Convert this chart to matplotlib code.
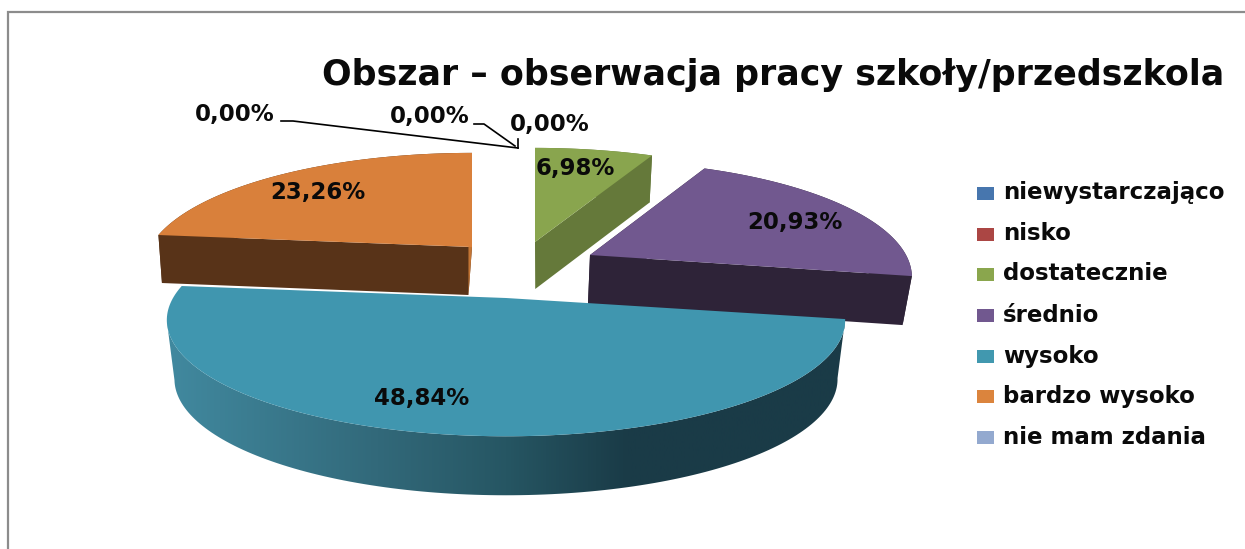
import numpy as np
import matplotlib
matplotlib.use("Agg")
from matplotlib import pyplot as plt
from matplotlib.colors import LinearSegmentedColormap
from matplotlib.patches import Polygon, Rectangle

title = "Obszar – obserwacja pracy szkoły/przedszkola"
categories = ["niewystarczająco", "nisko", "dostatecznie", "średnio", "wysoko", "bardzo wysoko", "nie mam zdania"]
values = [0.0, 0.0, 6.98, 20.93, 48.84, 23.26, 0.0]
legend_colors = ["#4776ae", "#ab4644", "#8aa64d", "#71588f", "#4198af", "#db843d", "#93a9cf"]

# layout of the exploded slices, in pixels: only slices that have a value
apex = {"dostatecznie": (535, 242), "średnio": (590, 255), "wysoko": (506, 298), "bardzo wysoko": (472, 247)}
size_x = {"dostatecznie": 323, "średnio": 316, "wysoko": 333, "bardzo wysoko": 322}
depth = {"dostatecznie": 47, "średnio": 49, "wysoko": 59, "bardzo wysoko": 48}
vanish_x = {"dostatecznie": 545, "średnio": 500, "wysoko": 506, "bardzo wysoko": 315}
top_color = {"dostatecznie": "#89a54e", "średnio": "#71588f", "wysoko": "#4096af", "bardzo wysoko": "#d9803b"}
start_cut = {"dostatecznie": "#7d9647", "średnio": "#2e2338", "wysoko": None, "bardzo wysoko": "#583318"}
end_cut = {"dostatecznie": "#65793a", "średnio": "#2e2338", "wysoko": None, "bardzo wysoko": "#c47534"}
outer_color = {"dostatecznie": "#65793a", "średnio": "#2e2338", "bardzo wysoko": "#583318"}
label_pos = {"niewystarczająco": (235, 114), "nisko": (430, 117), "dostatecznie": (575, 168), "średnio": (795, 222),
             "wysoko": (422, 398), "bardzo wysoko": (318, 193), "nie mam zdania": (550, 124)}

SIZE_Y = 112
PERSP = 0.19
SHRINK = 0.0225
side_cmap = LinearSegmentedColormap.from_list(
    "side", [(0, "#41899f"), (0.31, "#32697a"), (0.5, "#265663"), (0.68, "#1a3b47"), (1, "#1a3b47")])


def top_point(name, theta):
    u = np.sin(theta)
    v = np.cos(theta)
    w = 1 + PERSP * v
    return apex[name][0] + size_x[name] * u / w, apex[name][1] - SIZE_Y * v / w


def bottom_point(name, x, y):
    return x + (vanish_x[name] - x) * SHRINK, y + depth[name]


fig = plt.figure(figsize=(12.45, 5.49), dpi=100)
ax = fig.add_axes([0, 0, 1, 1])

# frame
ax.plot([8, 8, 1245], [549, 12, 12], color="#8c8c8c", lw=1.6, solid_joinstyle="miter")

fracs = np.array(values) / sum(values)
ends = np.cumsum(fracs) * 2 * np.pi
starts = ends - fracs * 2 * np.pi
order = ["bardzo wysoko", "dostatecznie", "średnio", "wysoko"]

z = 2
for name in order:
    i = categories.index(name)
    t = np.linspace(starts[i], ends[i], 160)
    arc = [top_point(name, a) for a in t]
    low = [bottom_point(name, x, y) for x, y in arc]
    low_apex = bottom_point(name, *apex[name])

    if start_cut[name]:
        ax.add_patch(Polygon([apex[name], arc[0], low[0], low_apex], fc=start_cut[name], ec="none", zorder=z))
    if name == "wysoko":
        # outer wall shaded from left to right, only between the widest points
        xs = [p[0] for p in arc]
        a, b = int(np.argmax(xs)), int(np.argmin(xs))
        wall = Polygon(arc[a:b + 1] + low[a:b + 1][::-1], fc="none", ec="none")
        ax.add_patch(wall)
        grad = ax.imshow(np.linspace(0, 1, 512).reshape(1, -1), cmap=side_cmap, extent=(167, 845, 549, 0),
                         aspect="auto", zorder=z)
        grad.set_clip_path(wall)
    else:
        ax.add_patch(Polygon(arc + low[::-1], fc=outer_color[name], ec="none", zorder=z))
    if end_cut[name]:
        ax.add_patch(Polygon([apex[name], arc[-1], low[-1], low_apex], fc=end_cut[name], ec="none", zorder=z))
    ax.add_patch(Polygon([apex[name]] + arc, fc=top_color[name], ec="none", zorder=z + 0.5))
    z += 1

# leader lines of the empty slices
ax.plot([281, 293, 518], [121, 121, 148], color="black", lw=1.2, zorder=z)
ax.plot([474, 484, 515], [124, 124, 146], color="black", lw=1.2, zorder=z)
ax.plot([518, 518], [139, 148], color="black", lw=1.2, zorder=z)

for name, v in zip(categories, values):
    txt = f"{v:.2f}%".replace(".", ",")
    ax.text(label_pos[name][0], label_pos[name][1], txt, fontsize=16.5, family="DejaVu Sans", weight="bold",
            color="#0a0a0a", ha="center", va="center", zorder=z + 1)

ax.text(322, 85, title, fontsize=25.1, family="DejaVu Sans", weight="bold", color="#0a0a0a", ha="left", va="baseline")

# legend
legend_y = [193, 234, 274, 315, 356, 396, 437]
for name, col, y in zip(categories, legend_colors, legend_y):
    ax.add_patch(Rectangle((977, y - 6.5), 17, 13, fc=col, ec="none"))
    ax.text(1003, y, name, fontsize=16.5, family="DejaVu Sans", weight="bold", color="#0a0a0a", ha="left", va="center")

ax.set_xlim(0, 1245)
ax.set_ylim(549, 0)
ax.axis("off")

fig.savefig("out.png", dpi=100)
